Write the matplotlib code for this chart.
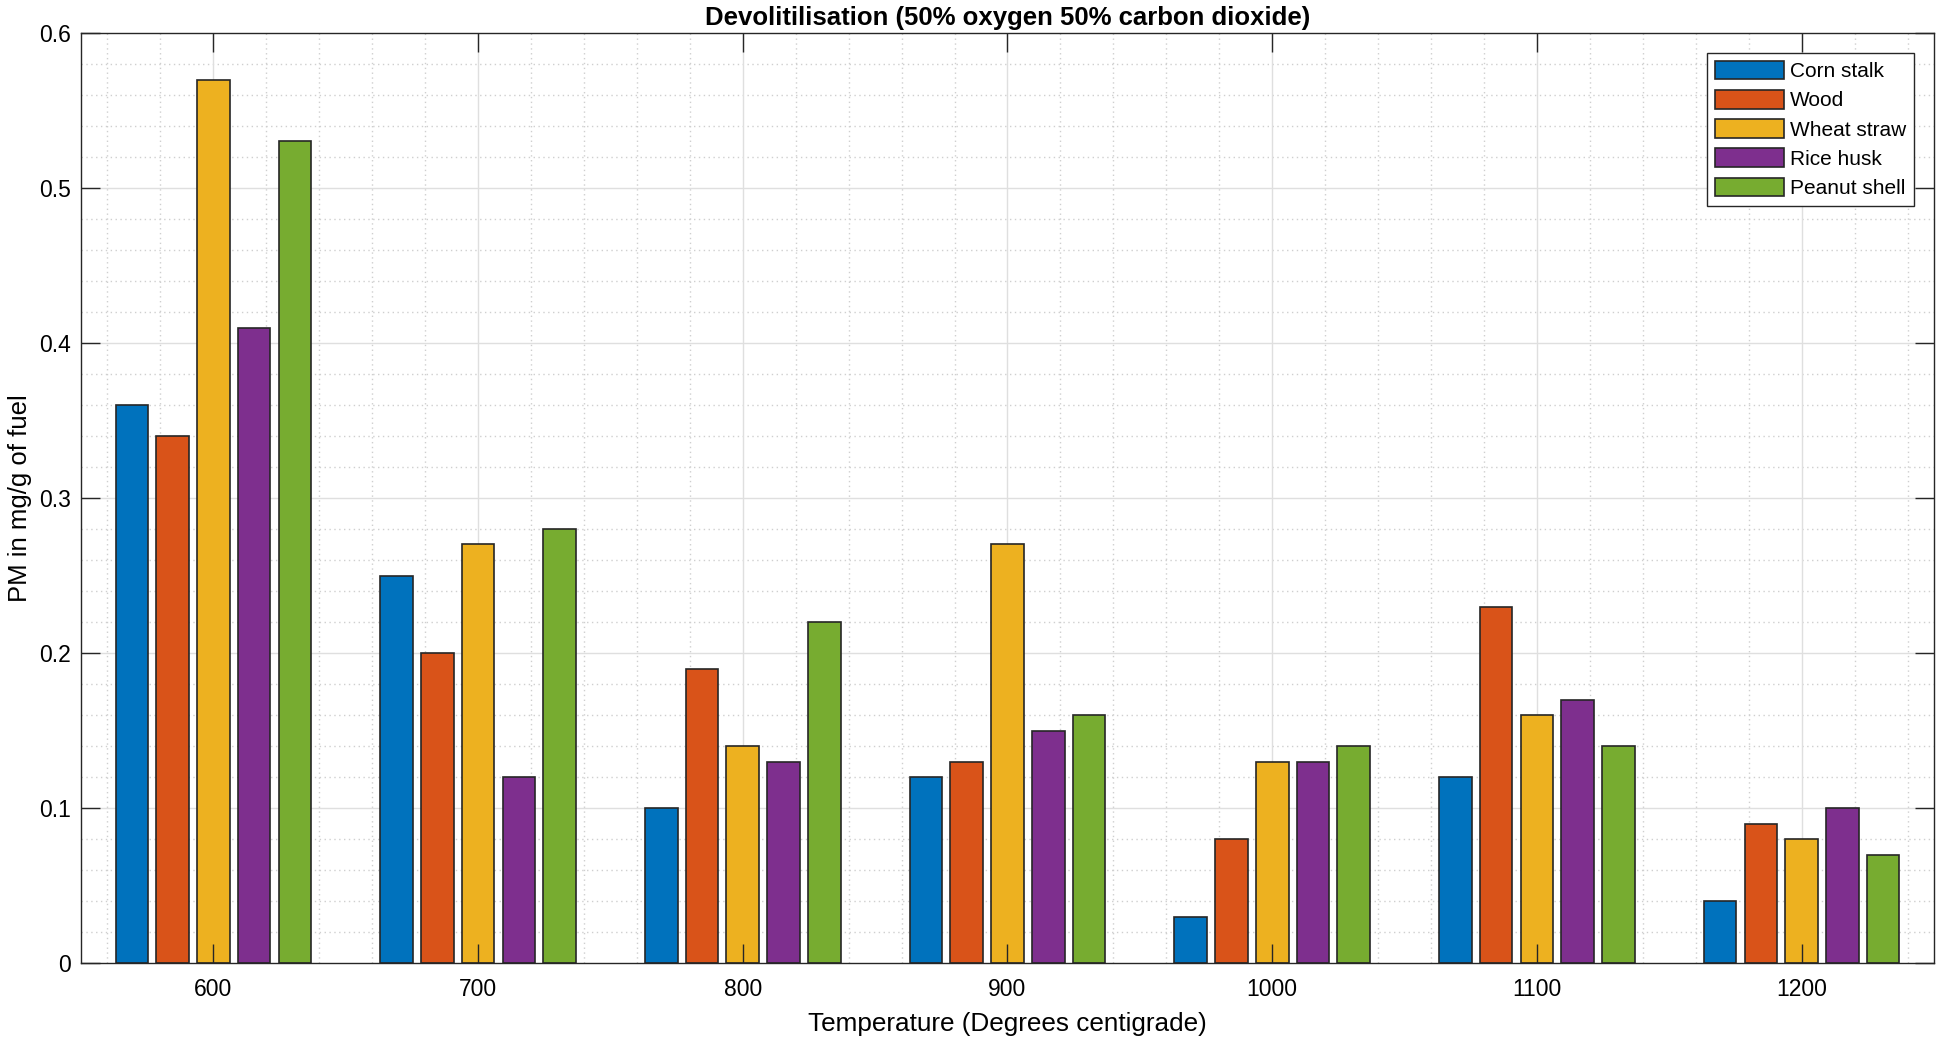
import matplotlib
matplotlib.use("Agg")
import matplotlib.pyplot as plt
import numpy as np

temperatures = [600, 700, 800, 900, 1000, 1100, 1200]
series_names = ["Corn stalk", "Wood", "Wheat straw", "Rice husk", "Peanut shell"]
corn_stalk = [0.36, 0.25, 0.10, 0.12, 0.03, 0.12, 0.04]
wood = [0.34, 0.20, 0.19, 0.13, 0.08, 0.23, 0.09]
wheat_straw = [0.57, 0.27, 0.14, 0.27, 0.13, 0.16, 0.08]
rice_husk = [0.41, 0.12, 0.13, 0.15, 0.13, 0.17, 0.10]
peanut_shell = [0.53, 0.28, 0.22, 0.16, 0.14, 0.14, 0.07]
yticks = [0, 0.1, 0.2, 0.3, 0.4, 0.5, 0.6]

series = [corn_stalk, wood, wheat_straw, rice_husk, peanut_shell]
colors = ["#0072BD", "#D95319", "#EDB120", "#7E2F8E", "#77AC30"]

plt.rcParams['font.family'] = ['Liberation Sans', 'DejaVu Sans']

W, H = 1940, 1047
fig = plt.figure(figsize=(W / 100, H / 100), dpi=100)
ax = fig.add_axes([81 / W, (H - 963) / H, (1934 - 81) / W, (963 - 33) / H])

x = np.array(temperatures, dtype=float)
n = len(series)
spacing = 100.0
group_width = min(0.8, n / (n + 1.5)) * spacing
slot = group_width / n
bar_w = 0.8 * slot
for i, (vals, name, c) in enumerate(zip(series, series_names, colors)):
    off = (i - (n - 1) / 2) * slot
    ax.bar(x + off, vals, width=bar_w, color=c, edgecolor="#262626",
           linewidth=1.2, label=name, zorder=1)

ax.set_xlim(550, 1250)
ax.set_ylim(0, 0.6)
ax.set_xticks(temperatures)
ax.set_yticks(yticks)
ax.set_yticklabels([("%g" % v) for v in yticks])

# grids (behind bars)
for xv in np.arange(560, 1250, 20):
    if int(round(xv)) % 100 == 0:
        ax.axvline(xv, color="#dfdfdf", lw=1.0, zorder=0.3)
    else:
        ax.axvline(xv, color="#cfcfcf", lw=1.0, ls=(0, (1, 2.5)), zorder=0.2)
for yv in np.arange(0.02, 0.6, 0.02):
    if abs(yv * 10 - round(yv * 10)) < 1e-6:
        ax.axhline(yv, color="#dfdfdf", lw=1.0, zorder=0.3)
    else:
        ax.axhline(yv, color="#cfcfcf", lw=1.0, ls=(0, (1, 2.5)), zorder=0.2)

ax.tick_params(axis="both", which="major", direction="in", length=13.5,
               width=1.0, color="#262626", labelsize=16.5, top=True, right=True,
               labelcolor="#000000")
ax.tick_params(axis="x", pad=11)
ax.tick_params(axis="y", pad=7.5)
for s in ax.spines.values():
    s.set_color("#262626")
    s.set_linewidth(1.0)
    s.set_zorder(3)

ax.set_title("Devolitilisation (50% oxygen 50% carbon dioxide)", fontsize=18.5,
             fontweight="bold", pad=6)
ax.set_xlabel("Temperature (Degrees centigrade)", fontsize=18.8, labelpad=8)
ax.set_ylabel("PM in mg/g of fuel", fontsize=18.5, labelpad=5)

leg = ax.legend(loc="upper right", fontsize=15, frameon=True, fancybox=False,
                framealpha=1, edgecolor="#262626", handlelength=3.3,
                handleheight=1.0, handletextpad=0.3, labelspacing=0.42,
                borderpad=0.38, borderaxespad=0.95)
leg.get_frame().set_linewidth(1.0)
leg.set_zorder(5)

fig.savefig("out.png", dpi=100)
